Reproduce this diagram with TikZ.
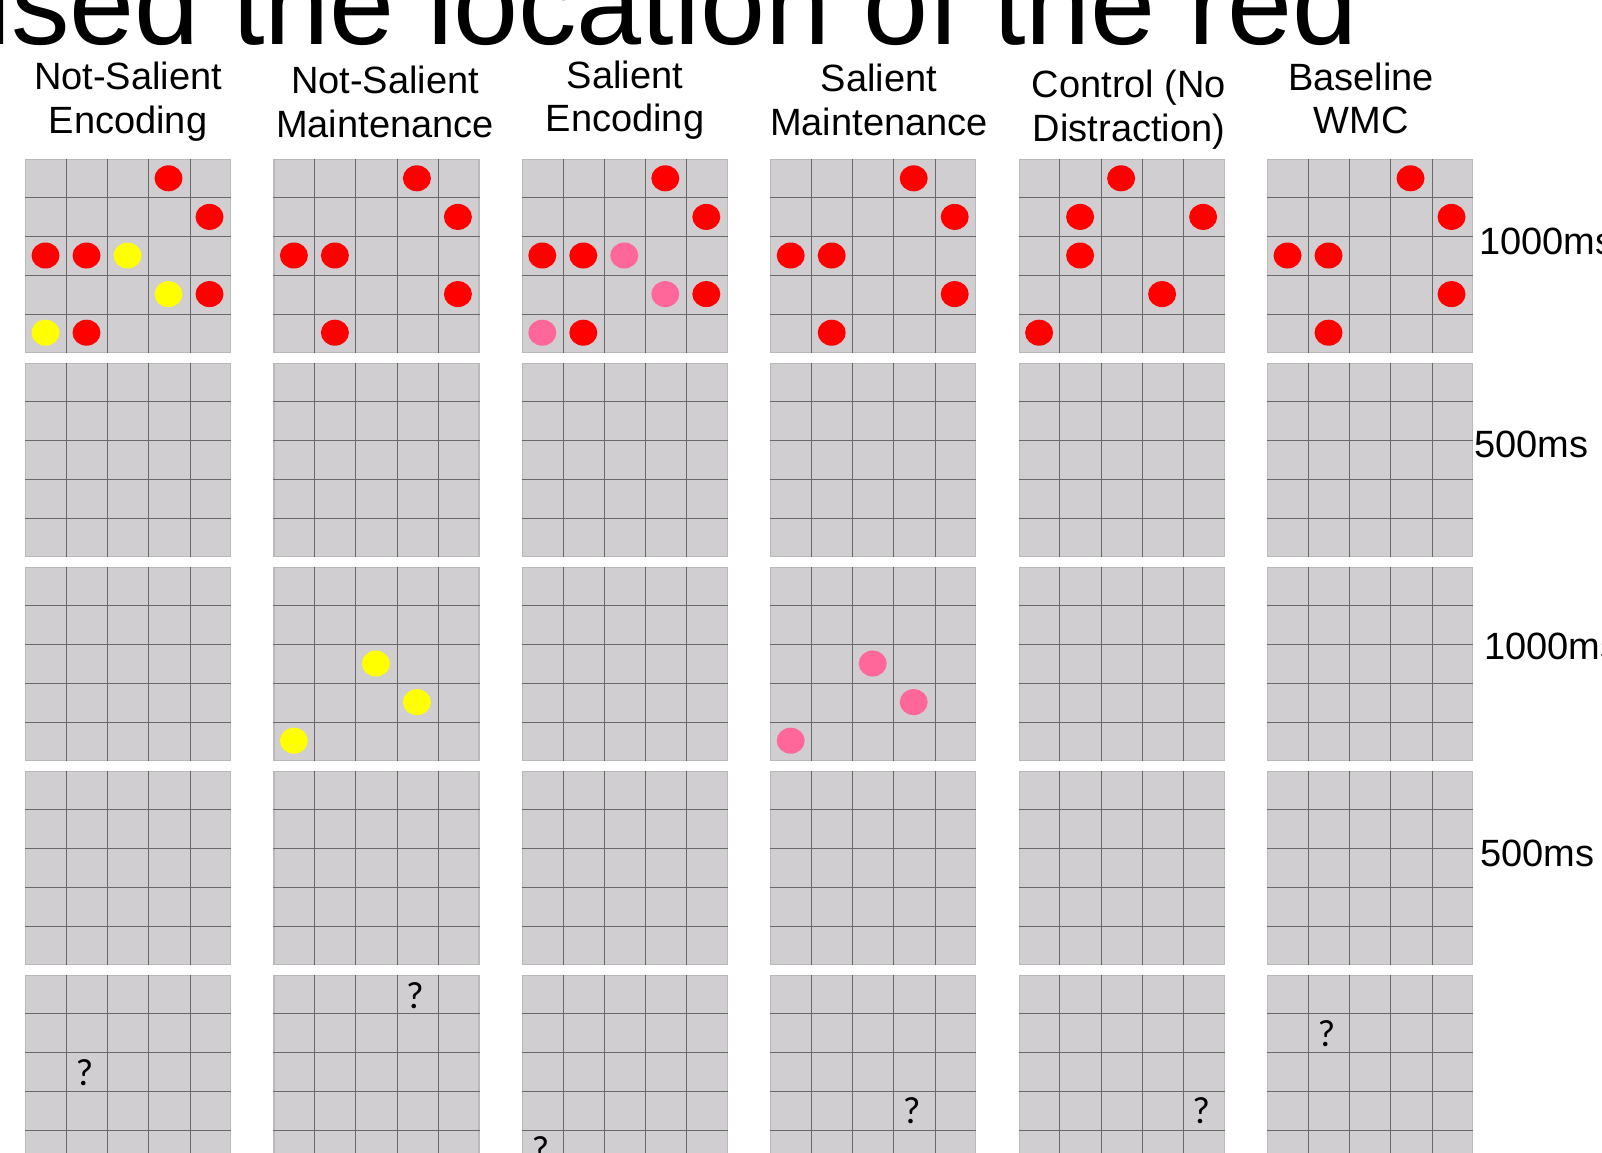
\documentclass[tikz,border=0pt]{standalone}
\usepackage{fontspec}
\setmainfont{Liberation Sans}
\newfontfamily\qfont{Carlito}
\usetikzlibrary{calc}
\definecolor{cellgray}{RGB}{208,206,208}
\definecolor{linegray}{RGB}{105,105,105}
\definecolor{edgegray}{RGB}{185,185,185}
\definecolor{dotpink}{RGB}{255,102,153}
\definecolor{dotyellow}{RGB}{255,255,0}
\begin{document}
\begin{tikzpicture}[
  x=1pt, y=-1pt,
  board/.style={fill=cellgray, draw=edgegray, line width=1.2pt, minimum width=205pt,
    minimum height=193pt, anchor=north west, inner sep=0pt},
  gridline/.style={draw=linegray, line width=0.9pt},
  head/.style={font=\fontsize{38}{44}\selectfont, anchor=base, inner sep=0pt},
  timing/.style={font=\fontsize{38}{44}\selectfont, anchor=base west, inner sep=0pt},
  qmark/.style={font=\qfont\fontsize{38}{44}\selectfont, inner sep=0pt},
  spot/.style={x radius=14pt, y radius=13pt}
]
\useasboundingbox (0,0) rectangle (1602,1152);
\clip (0,0) rectangle (1602,1152);

% title, cut off by the slide edge
\node[font=\fontsize{117}{130}\selectfont, anchor=base west, inner sep=0pt] (title) at (-15,44)
  {ised the location of the red};

% column headings
\foreach \n/\x/\ya/\yb/\ta/\tb in {1/128/89/133/Not-Salient/Encoding,
    2/385/93/137/Not-Salient/Maintenance, 3/625/88/131/Salient/Encoding,
    4/879/91/135/Salient/Maintenance, 5/1129/97/141/Control (No/Distraction),
    6/1361/90/133/Baseline/WMC}{
  \node[head] (hd\n a) at (\x,\ya) {\ta};
  \node[head] (hd\n b) at (\x,\yb) {\tb};
}

% boards
\foreach \c in {1,...,6}{
  \foreach \r in {1,...,5}{
    \node[board] (g\c\r) at ({25+248.4*(\c-1)},{159+204*(\r-1)}) {};
    \foreach \k in {1,...,4}{
      \draw[gridline] ($(g\c\r.north west)!\k/5!(g\c\r.north east)$)
        -- ($(g\c\r.south west)!\k/5!(g\c\r.south east)$);
      \draw[gridline] ($(g\c\r.north west)!\k/5!(g\c\r.south west)$)
        -- ($(g\c\r.north east)!\k/5!(g\c\r.south east)$);
    }
  }
}

% red targets in the first frame
\foreach \c in {1,2,3,4,6}{
  \foreach \i/\j in {3/0,4/1,0/2,1/2,4/3,1/4}
    \fill[red] ($(g\c1.north west)+({(\i+0.5)*41},{(\j+0.5)*38.6})$) ellipse [spot];
}
\foreach \i/\j in {2/0,1/1,4/1,1/2,3/3,0/4}
  \fill[red] ($(g51.north west)+({(\i+0.5)*41},{(\j+0.5)*38.6})$) ellipse [spot];

% distractors
\foreach \g/\col in {11/dotyellow,31/dotpink,23/dotyellow,43/dotpink}{
  \foreach \i/\j in {2/2,3/3,0/4}
    \fill[\col] ($(g\g.north west)+({(\i+0.5)*41},{(\j+0.5)*38.6})$) ellipse [spot];
}

% probes
\foreach \c/\i/\j in {1/1/2,2/3/0,3/0/4,4/3/3,5/4/3,6/1/1}
  \node[qmark] (q\c) at ($(g\c5.north west)+({(\i+0.5)*41-2},{(\j+0.5)*38.6+1})$) {?};

% timing
\node[timing] (t1) at (1479,254) {1000ms};
\node[timing] (t2) at (1474,457) {500ms};
\node[timing] (t3) at (1484,659) {1000ms};
\node[timing] (t4) at (1480,866) {500ms};
\end{tikzpicture}
\end{document}
